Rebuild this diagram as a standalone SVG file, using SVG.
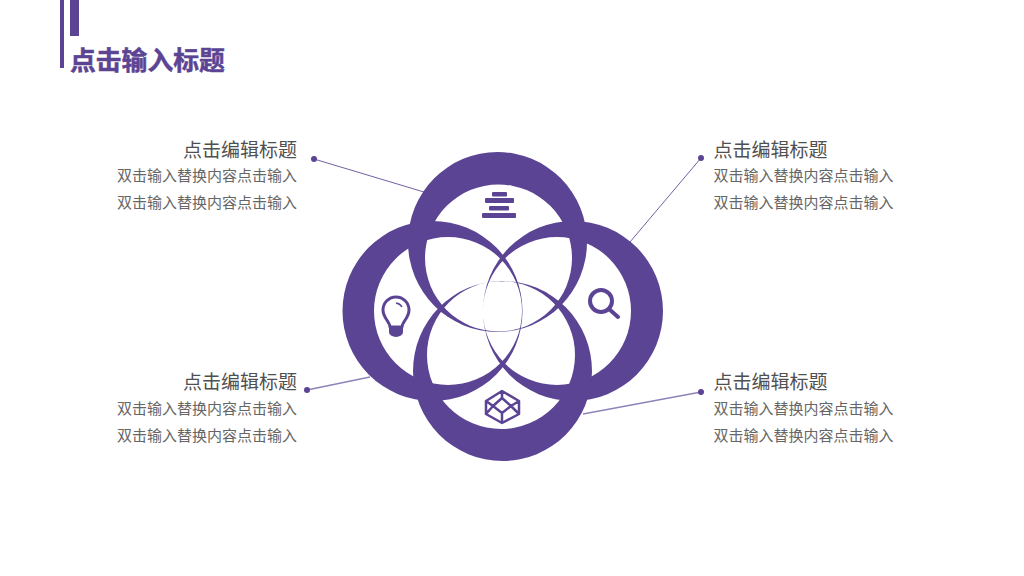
<svg xmlns="http://www.w3.org/2000/svg" width="1024" height="576" viewBox="0 0 1024 576">
<defs><style>
text{font-family:"Noto Sans CJK SC","Liberation Sans",sans-serif}
.t{font-size:19px;fill:#505050}
.b{font-size:15px;fill:#666}
.e{text-anchor:end}
.c{fill:#5b4494;fill-rule:evenodd}
.l{stroke:#5b4494;stroke-width:1;fill:none;opacity:.85}
.s{stroke:#8f82b8;stroke-width:1.300;fill:none}
.d{fill:#5b4494}
.i{fill:none;stroke:#5b4494;stroke-linejoin:round}
</style></defs>
<rect width="1024" height="576" fill="#fff"/>
<g id="header">
<rect x="60" y="0" width="4" height="68" fill="#5b4494"/>
<rect x="70" y="0" width="9" height="36" fill="#5b4494"/>
<text x="70" y="70" font-size="25.8" font-weight="700" fill="#5b4494" stroke="#5b4494" stroke-width=".5">点击输入标题</text>
</g>
<g id="connectors">
<path class="l" d="M314 159L424 192"/><circle class="d" cx="314" cy="159" r="3"/>
<path class="l" d="M701 158L630 242"/><circle class="d" cx="701" cy="158" r="3"/>
<path class="s" d="M307 390L370 377"/><circle class="d" cx="307" cy="390" r="3"/>
<path class="s" d="M701 392L583 414"/><circle class="d" cx="701" cy="392" r="3"/>
</g>
<g id="node-top">
<path class="c" d="M408 242a89.500 90 0 1 0 179 0a89.500 90 0 1 0-179 0ZM425 258a73.500 73.500 0 1 0 147 0a73.500 73.500 0 1 0-147 0Z"/>
<g fill="#5b4494"><rect x="492" y="192" width="15" height="4.500" rx="1"/><rect x="485" y="198" width="29" height="5" rx="1"/><rect x="489" y="206" width="20" height="4.500" rx="1"/><rect x="482" y="213" width="34" height="5" rx="1"/></g>
</g>
<g id="node-left">
<path class="c" d="M342.500 311a90 90 0 1 0 180 0a90 90 0 1 0-180 0ZM374 311a74 74 0 1 0 148 0a74 74 0 1 0-148 0Z"/>
<path class="i" stroke-width="3" d="M390 327c0-5-7-9-7-17a13 13 0 0 1 26 0c0 8-7 12-7 17Z"/>
<path class="d" d="M389 327h14v5a7 5 0 0 1-14 0Z"/>
<path class="i" stroke-width="1.500" d="M396 303a8 8 0 0 1 6 4"/>
</g>
<g id="node-right">
<path class="c" d="M483 311a90 90 0 1 0 180 0a90 90 0 1 0-180 0ZM483 311a74 74 0 1 0 148 0a74 74 0 1 0-148 0Z"/>
<circle class="i" stroke-width="4" cx="601" cy="301" r="11"/>
<path class="i" stroke-width="4" stroke-linecap="round" d="M609 309L618 317"/>
</g>
<g id="node-bottom">
<path class="c" d="M413 371a89.500 90 0 1 0 179 0a89.500 90 0 1 0-179 0ZM427 355a74 74 0 1 0 148 0a74 74 0 1 0-148 0Z"/>
<path class="i" stroke-width="2.500" d="M502 391L519 401V414L502 423L486 414V401ZM502 398L511 406L502 413L493 406ZM502 391V398M519 401L511 406M519 414L511 406M502 423V413M486 414L493 406M486 401L493 406"/>
</g>
<g id="label-top-left"><text class="t e" x="297" y="157">点击编辑标题</text><text class="b e" x="297" y="181">双击输入替换内容点击输入</text><text class="b e" x="297" y="208">双击输入替换内容点击输入</text></g>
<g id="label-top-right"><text class="t" x="713.500" y="157">点击编辑标题</text><text class="b" x="713.500" y="181">双击输入替换内容点击输入</text><text class="b" x="713.500" y="208">双击输入替换内容点击输入</text></g>
<g id="label-bottom-left"><text class="t e" x="297" y="389">点击编辑标题</text><text class="b e" x="297" y="414">双击输入替换内容点击输入</text><text class="b e" x="297" y="441">双击输入替换内容点击输入</text></g>
<g id="label-bottom-right"><text class="t" x="713.500" y="389">点击编辑标题</text><text class="b" x="713.500" y="414">双击输入替换内容点击输入</text><text class="b" x="713.500" y="441">双击输入替换内容点击输入</text></g>
</svg>
